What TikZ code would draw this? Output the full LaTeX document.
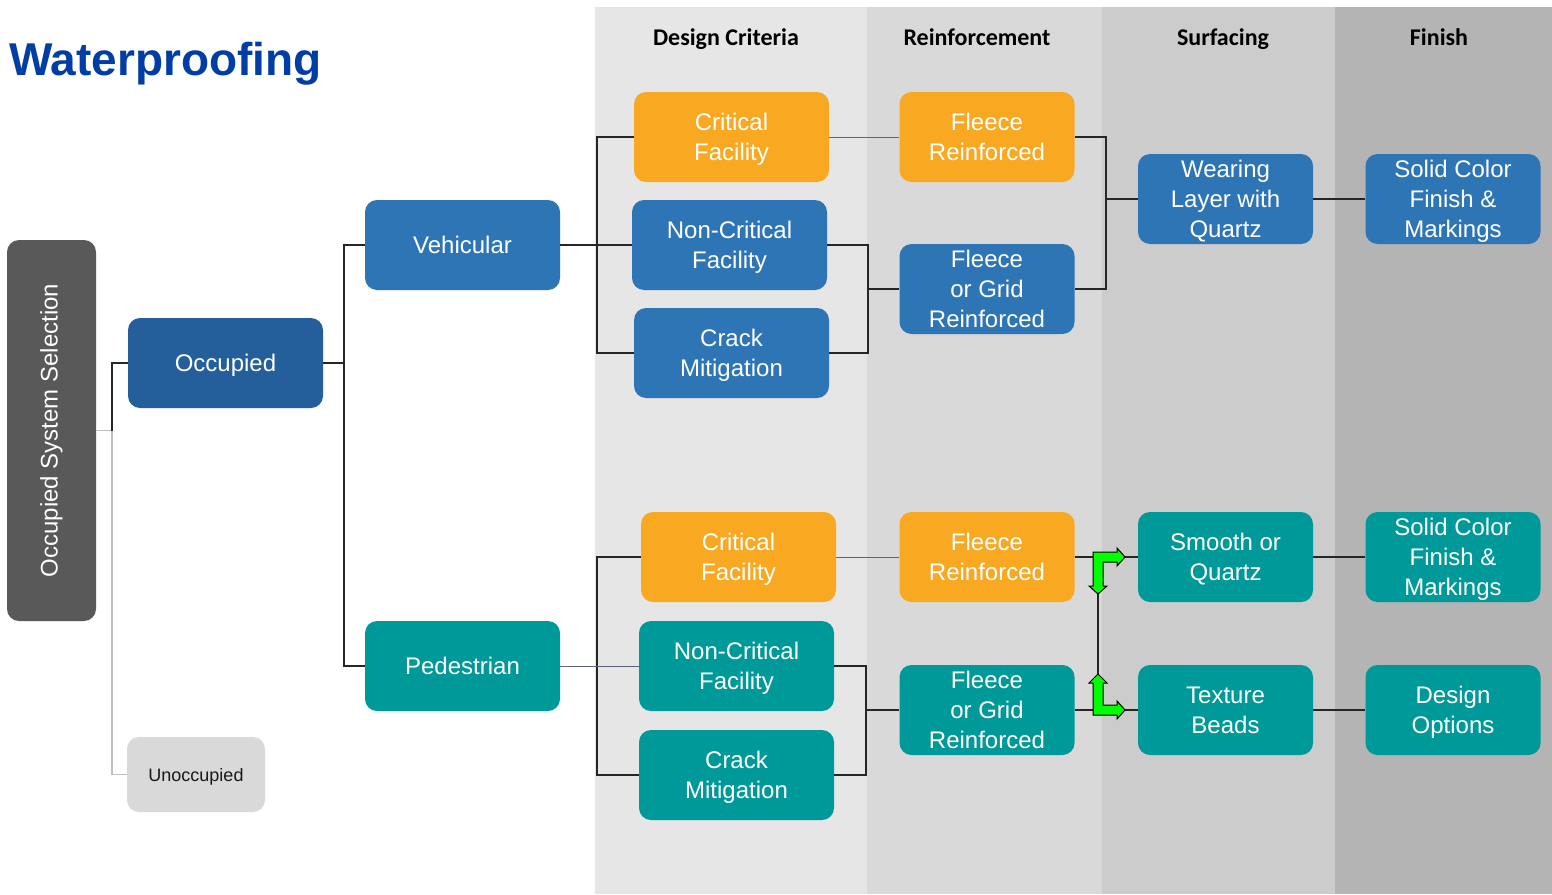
\documentclass[tikz,border=0pt]{standalone}
\usepackage{fontspec}
\setmainfont{Liberation Sans}
\newfontfamily\hdrfont{Carlito}

\definecolor{bluebox}{HTML}{2E75B6}
\definecolor{darkblue}{HTML}{245F9C}
\definecolor{tealbox}{HTML}{009999}
\definecolor{orangebox}{HTML}{F9A822}
\definecolor{graybox}{HTML}{595959}
\definecolor{lightbox}{HTML}{D9D9D9}
\definecolor{colA}{HTML}{E6E6E6}
\definecolor{colB}{HTML}{D9D9D9}
\definecolor{colC}{HTML}{CCCCCC}
\definecolor{colD}{HTML}{B4B4B4}
\definecolor{titleblue}{HTML}{003DA5}
\definecolor{wire}{HTML}{262626}
\definecolor{slatewire}{HTML}{5C6478}
\definecolor{lightwire}{HTML}{BFBFBF}
\definecolor{arrowgreen}{HTML}{00FF00}

\tikzset{
  box/.style={rounded corners=12pt, minimum height=90pt, inner sep=0pt,
    text depth=0pt, text=white, align=center, font=\fontsize{24}{30}\selectfont},
  wide/.style={box, minimum width=195pt},
  narrow/.style={box, minimum width=175pt},
  blueB/.style={fill=bluebox},
  tealB/.style={fill=tealbox},
  orangeB/.style={fill=orangebox},
  hdr/.style={anchor=base, font=\hdrfont\bfseries\fontsize{24}{28}\selectfont, text=black},
  wireline/.style={draw=wire, line width=1.3pt},
  slateline/.style={draw=slatewire, line width=1pt},
  lightline/.style={draw=lightwire, line width=1.2pt},
  bentarrow/.style={fill=arrowgreen, draw=black, line width=1pt, line join=miter},
}

\begin{document}
\begin{tikzpicture}[x=1pt, y=-1pt]
\useasboundingbox (0,0) rectangle (1552,894);
\fill[white] (0,0) rectangle (1552,894);

% column bands
\fill[colA] (595,7) rectangle (867,894);
\fill[colB] (867,7) rectangle (1102,894);
\fill[colC] (1102,7) rectangle (1335,894);
\fill[colD] (1335,7) rectangle (1552,894);

\node[hdr] (hA) at (726,45) {Design Criteria};
\node[hdr] (hB) at (977,45) {Reinforcement};
\node[hdr] (hC) at (1223,45) {Surfacing};
\node[hdr] (hD) at (1439,45) {Finish};

% title
\node[anchor=base west, inner sep=0pt, text=titleblue,
      font=\bfseries\fontsize{46}{50}\selectfont] (title) at (9,75) {Waterproofing};

% left column
\node[fill=graybox, rounded corners=12pt, minimum width=89pt, minimum height=381pt,
      inner sep=0pt] (sys) at (51.5,430.5) {};
\node[rotate=90, text=white, font=\fontsize{24}{28}\selectfont] (systext) at (sys.center) {Occupied System Selection};
\node[wide, fill=darkblue] (occ) at (225.5,363) {Occupied};
\node[fill=lightbox, rounded corners=12pt, minimum width=138pt, minimum height=75pt,
      inner sep=0pt, text depth=0pt, text=black!90, font=\fontsize{18}{22}\selectfont] (unocc) at (196,774.5) {Unoccupied};

% second level
\node[wide, blueB] (veh) at (462.5,245) {Vehicular};
\node[wide, tealB] (ped) at (462.5,666) {Pedestrian};

% vehicular branch
\node[wide, orangeB] (vcf) at (731.5,137) {Critical\\Facility};
\node[wide, blueB] (vnc) at (729.5,245) {Non-Critical\\Facility};
\node[wide, blueB] (vcm) at (731.5,353) {Crack\\Mitigation};
\node[narrow, orangeB] (vfr) at (987,137) {Fleece\\Reinforced};
\node[narrow, blueB] (vfg) at (987,289) {Fleece\\or Grid\\Reinforced};
\node[narrow, blueB] (wl) at (1225.5,199) {Wearing\\Layer with\\Quartz};
\node[narrow, blueB] (vsc) at (1453,199) {Solid Color\\Finish \&\\Markings};

% pedestrian branch
\node[wide, orangeB] (pcf) at (738.5,557) {Critical\\Facility};
\node[wide, tealB] (pnc) at (736.5,666) {Non-Critical\\Facility};
\node[wide, tealB] (pcm) at (736.5,775) {Crack\\Mitigation};
\node[narrow, orangeB] (pfr) at (987,557) {Fleece\\Reinforced};
\node[narrow, tealB] (pfg) at (987,710) {Fleece\\or Grid\\Reinforced};
\node[narrow, tealB] (sq) at (1225.5,557) {Smooth or\\Quartz};
\node[narrow, tealB] (tb) at (1225.5,710) {Texture\\Beads};
\node[narrow, tealB] (psc) at (1453,557) {Solid Color\\Finish \&\\Markings};
\node[narrow, tealB] (dop) at (1453,710) {Design\\Options};

% junction points
\coordinate (sysj) at (112,430.5);
\coordinate (oj) at (344,363);
\coordinate (vj) at (597,245);
\coordinate (vgj) at (868,289);
\coordinate (wj) at (1106,199);
\coordinate (pj) at (597,666);
\coordinate (pgj) at (866,710);
\coordinate (sj) at (1098,557);
\coordinate (tj) at (1098,710);

% connectors
\draw[lightline] (sys.east) -- (sysj) |- (unocc.west);
\draw[wireline] (sysj) |- (occ.west);
\draw[wireline] (occ.east) -- (oj);
\draw[wireline] (veh.west) -| (oj) |- (ped.west);

\draw[wireline] (veh.east) -- (vj) -- (vnc.west);
\draw[wireline] (vcf.west) -| (vj) |- (vcm.west);
\draw[slateline] (vcf.east) -- (vfr.west);
\draw[wireline] (vnc.east) -| (vgj) |- (vcm.east);
\draw[wireline] (vgj) -- (vfg.west);
\draw[wireline] (vfr.east) -| (wj) |- (vfg.east);
\draw[wireline] (wj) -- (wl.west);
\draw[wireline] (wl.east) -- (vsc.west);

\draw[wireline] (pcf.west) -| (pj) |- (pcm.west);
\draw[slateline] (ped.east) -- (pnc.west);
\draw[slateline] (pcf.east) -- (pfr.west);
\draw[wireline] (pnc.east) -| (pgj) |- (pcm.east);
\draw[wireline] (pgj) -- (pfg.west);
\draw[wireline] (pfr.east) -- (sq.west);
\draw[wireline] (pfg.east) -- (tb.west);
\draw[wireline] (sj) -- (tj);
\draw[wireline] (sq.east) -- (psc.west);
\draw[wireline] (tb.east) -- (dop.west);

% bent green arrows at the surfacing split
\draw[bentarrow, shift={(sj)}] (-5,-5) -- (19,-5) -- (19,-9) -- (27,0) -- (19,9) -- (19,5)
  -- (5,5) -- (5,29) -- (9,29) -- (0,37) -- (-9,29) -- (-5,29) -- cycle;
\draw[bentarrow, shift={(tj)}] (-5,5) -- (19,5) -- (19,9) -- (27,0) -- (19,-9) -- (19,-5)
  -- (5,-5) -- (5,-27) -- (9,-27) -- (0,-36) -- (-9,-27) -- (-5,-27) -- cycle;
\end{tikzpicture}
\end{document}
